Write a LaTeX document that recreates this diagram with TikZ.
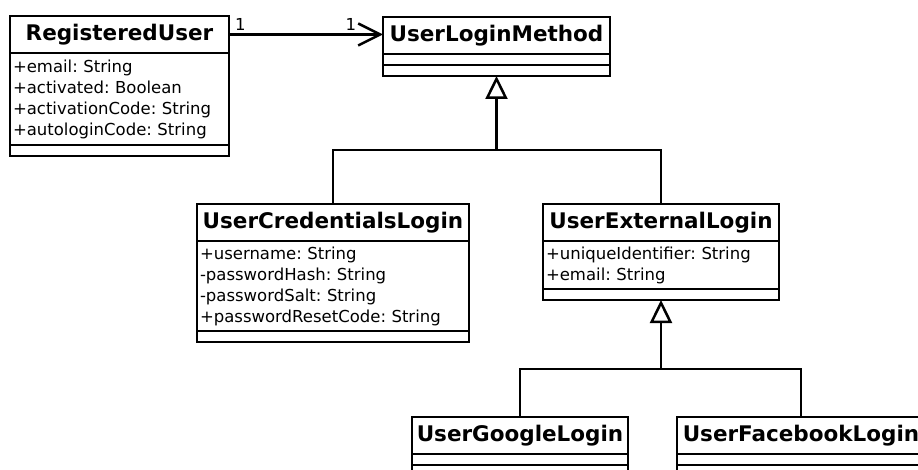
\documentclass[tikz,border=0pt]{standalone}
\usepackage{fontspec}
\setmainfont{DejaVu Sans}
\usetikzlibrary{arrows.meta}

\begin{document}
\frenchspacing
\begin{tikzpicture}[x=1pt, y=-1pt, line width=2.5pt, outer sep=0pt,
  classname/.style={draw, anchor=north west, inner sep=0pt, minimum height=37pt,
    font=\fontsize{21.5}{24}\selectfont\bfseries},
  classattrs/.style={draw, anchor=north west, align=left, inner xsep=3pt, inner ysep=0pt,
    font=\fontsize{16.5}{21}\selectfont},
  classempty/.style={draw, anchor=north west, inner sep=0pt, minimum height=11pt},
  inherit/.style={-{Triangle[open, length=23pt, width=22pt]}},
  assoc/.style={-{Straight Barb[length=22pt, width=22pt]}},
  mult/.style={font=\fontsize{16.5}{18}\selectfont, inner sep=0pt}]
  \useasboundingbox (0,0) rectangle (918,470);
  \clip (0,0) rectangle (918,470);

  % RegisteredUser
  \node[classname, minimum width=219pt] (reguser) at (10,16) {RegisteredUser};
  \node[classattrs, text width=213pt, minimum height=92pt] (reguser-attr) at (reguser.south west)
    {+email: String\\+activated: Boolean\\+activationCode: String\\+autologinCode: String};
  \node[classempty, minimum width=219pt] (reguser-ops) at (reguser-attr.south west) {};

  % UserLoginMethod
  \node[classname, minimum width=227pt] (loginmethod) at (383,17) {UserLoginMethod};
  \node[classempty, minimum width=227pt] (loginmethod-attr) at (loginmethod.south west) {};
  \node[classempty, minimum width=227pt] (loginmethod-ops) at (loginmethod-attr.south west) {};

  % UserCredentialsLogin
  \node[classname, minimum width=272pt] (credlogin) at (197,204) {UserCredentialsLogin};
  \node[classattrs, text width=266pt, minimum height=90pt] (credlogin-attr) at (credlogin.south west)
    {+username: String\\-passwordHash: String\\-passwordSalt: String\\+passwordResetCode: String};
  \node[classempty, minimum width=272pt] (credlogin-ops) at (credlogin-attr.south west) {};

  % UserExternalLogin
  \node[classname, minimum width=236pt] (extlogin) at (543,204) {UserExternalLogin};
  \node[classattrs, text width=230pt, minimum height=48pt] (extlogin-attr) at (extlogin.south west)
    {+uniqueIdentifier: String\\+email: String};
  \node[classempty, minimum width=236pt] (extlogin-ops) at (extlogin-attr.south west) {};

  % UserGoogleLogin and UserFacebookLogin
  \node[classname, minimum width=216pt] (googlelogin) at (412,417) {UserGoogleLogin};
  \node[classempty, minimum width=216pt] (googlelogin-attr) at (googlelogin.south west) {};
  \node[classempty, minimum width=216pt] (googlelogin-ops) at (googlelogin-attr.south west) {};
  \node[classname, minimum width=248pt] (fblogin) at (677,417) {UserFacebookLogin};
  \node[classempty, minimum width=248pt] (fblogin-attr) at (fblogin.south west) {};
  \node[classempty, minimum width=248pt] (fblogin-ops) at (fblogin-attr.south west) {};

  % association with multiplicities
  \draw[assoc] (reguser.east) -- (reguser.east -| loginmethod.west);
  \node[mult, anchor=south west] (mult-src) at ([xshift=6pt, yshift=3.5pt]reguser.east) {1};
  \node[mult, anchor=south east] (mult-dst) at ([xshift=-27pt, yshift=3.5pt]reguser.east -| loginmethod.west) {1};

  % generalizations
  \coordinate (bus1) at (loginmethod-ops.south |- 0,150);
  \draw (credlogin.north) |- (bus1) -| (extlogin.north);
  \draw[inherit] (bus1) -- (loginmethod-ops.south);
  \coordinate (bus2) at (extlogin-ops.south |- 0,369);
  \draw (googlelogin.north) |- (bus2) -| (fblogin.north);
  \draw[inherit] (bus2) -- (extlogin-ops.south);
\end{tikzpicture}
\end{document}
